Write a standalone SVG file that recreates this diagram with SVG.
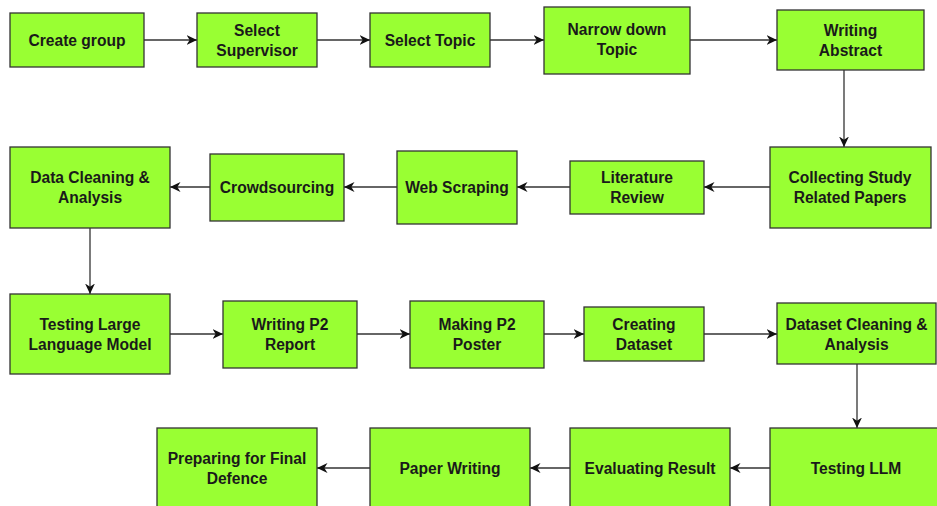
<svg xmlns="http://www.w3.org/2000/svg" width="937" height="506" viewBox="0 0 937 506">
<defs>
<style>
.box{fill:#99ff33;stroke:#333;stroke-width:1.3}
.t{font-family:"Liberation Sans",Arial,sans-serif;font-weight:bold;font-size:15.6px;fill:#1a1a1a;text-anchor:middle}
.e{fill:none;stroke:#333;stroke-width:1.3}
</style>
<marker id="arr" viewBox="0 0 10 10" refX="10" refY="5" markerWidth="10.5" markerHeight="10.5" markerUnits="userSpaceOnUse" orient="auto">
<path d="M0,0.3 L10,5 L0,9.7 L3,5 Z" fill="#111"/>
</marker>
</defs>
<rect width="937" height="506" fill="#fff"/>
<g id="connectors">
<line class="e" x1="144" y1="40" x2="197" y2="40" marker-end="url(#arr)"/>
<line class="e" x1="317" y1="40" x2="370" y2="40" marker-end="url(#arr)"/>
<line class="e" x1="490" y1="40" x2="544" y2="40" marker-end="url(#arr)"/>
<line class="e" x1="690" y1="40" x2="777" y2="40" marker-end="url(#arr)"/>
<line class="e" x1="844" y1="70" x2="844" y2="147" marker-end="url(#arr)"/>
<line class="e" x1="770" y1="187" x2="704" y2="187" marker-end="url(#arr)"/>
<line class="e" x1="570" y1="187" x2="517" y2="187" marker-end="url(#arr)"/>
<line class="e" x1="397" y1="187" x2="344" y2="187" marker-end="url(#arr)"/>
<line class="e" x1="210" y1="187" x2="170" y2="187" marker-end="url(#arr)"/>
<line class="e" x1="90" y1="228" x2="90" y2="294" marker-end="url(#arr)"/>
<line class="e" x1="170" y1="334" x2="223" y2="334" marker-end="url(#arr)"/>
<line class="e" x1="357" y1="334" x2="410" y2="334" marker-end="url(#arr)"/>
<line class="e" x1="544" y1="334" x2="584" y2="334" marker-end="url(#arr)"/>
<line class="e" x1="704" y1="334" x2="777" y2="334" marker-end="url(#arr)"/>
<line class="e" x1="857" y1="364" x2="857" y2="428" marker-end="url(#arr)"/>
<line class="e" x1="770" y1="468" x2="730" y2="468" marker-end="url(#arr)"/>
<line class="e" x1="570" y1="468" x2="530" y2="468" marker-end="url(#arr)"/>
<line class="e" x1="370" y1="468" x2="317" y2="468" marker-end="url(#arr)"/>
</g>
<g id="n1"><rect class="box" x="10" y="13" width="134" height="54"/><text class="t" x="77" y="45.5">Create group</text></g>
<g id="n2"><rect class="box" x="197" y="13" width="120" height="54"/><text class="t" x="257" y="35.5">Select</text><text class="t" x="257" y="55.5">Supervisor</text></g>
<g id="n3"><rect class="box" x="370" y="13" width="120" height="54"/><text class="t" x="430" y="45.5">Select Topic</text></g>
<g id="n4"><rect class="box" x="544" y="7" width="146" height="67"/><text class="t" x="617" y="35">Narrow down</text><text class="t" x="617" y="55">Topic</text></g>
<g id="n5"><rect class="box" x="777" y="10" width="147" height="60"/><text class="t" x="850.5" y="35.5">Writing</text><text class="t" x="850.5" y="55.5">Abstract</text></g>
<g id="n6"><rect class="box" x="770" y="147" width="161" height="81"/><text class="t" x="850" y="182.5">Collecting Study</text><text class="t" x="850" y="202.5">Related Papers</text></g>
<g id="n7"><rect class="box" x="570" y="161" width="134" height="53"/><text class="t" x="637" y="182.5">Literature</text><text class="t" x="637" y="202.5">Review</text></g>
<g id="n8"><rect class="box" x="397" y="151" width="120" height="73"/><text class="t" x="457" y="192.5">Web Scraping</text></g>
<g id="n9"><rect class="box" x="210" y="154" width="134" height="67"/><text class="t" x="277" y="192.5">Crowdsourcing</text></g>
<g id="n10"><rect class="box" x="10" y="147" width="160" height="81"/><text class="t" x="90" y="182.5">Data Cleaning &amp;</text><text class="t" x="90" y="202.5">Analysis</text></g>
<g id="n11"><rect class="box" x="10" y="294" width="160" height="80"/><text class="t" x="90" y="329.5">Testing Large</text><text class="t" x="90" y="349.5">Language Model</text></g>
<g id="n12"><rect class="box" x="223" y="301" width="134" height="67"/><text class="t" x="290" y="329.5">Writing P2</text><text class="t" x="290" y="349.5">Report</text></g>
<g id="n13"><rect class="box" x="410" y="301" width="134" height="67"/><text class="t" x="477" y="329.5">Making P2</text><text class="t" x="477" y="349.5">Poster</text></g>
<g id="n14"><rect class="box" x="584" y="307" width="120" height="54"/><text class="t" x="644" y="329.5">Creating</text><text class="t" x="644" y="349.5">Dataset</text></g>
<g id="n15"><rect class="box" x="777" y="303" width="159" height="61"/><text class="t" x="856.5" y="329.5">Dataset Cleaning &amp;</text><text class="t" x="856.5" y="349.5">Analysis</text></g>
<g id="n16"><rect class="box" x="770" y="428" width="172" height="82"/><text class="t" x="856" y="473.5">Testing LLM</text></g>
<g id="n17"><rect class="box" x="570" y="428" width="160" height="82"/><text class="t" x="650" y="473.5">Evaluating Result</text></g>
<g id="n18"><rect class="box" x="370" y="428" width="160" height="82"/><text class="t" x="450" y="473.5">Paper Writing</text></g>
<g id="n19"><rect class="box" x="157" y="428" width="160" height="82"/><text class="t" x="237" y="463.5">Preparing for Final</text><text class="t" x="237" y="483.5">Defence</text></g>
</svg>
